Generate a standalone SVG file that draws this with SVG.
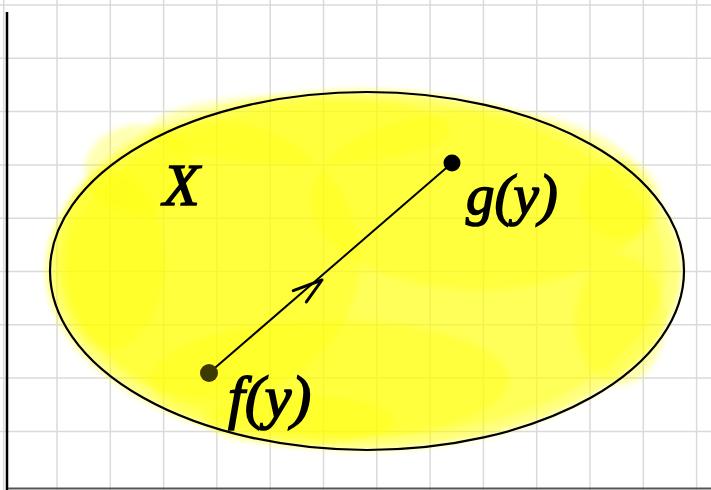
<svg xmlns="http://www.w3.org/2000/svg" width="711" height="490" viewBox="0 0 711 490">
<style>
.grid line{stroke:#dadada;stroke-width:1.5}
.lbl{font-family:"Liberation Serif",serif;font-style:italic;fill:#000;stroke:#000;stroke-width:1.6}
.blob{fill:#ffff00;opacity:0.3}
</style>
<defs>
<filter id="soft" x="-10%" y="-10%" width="120%" height="120%"><feGaussianBlur stdDeviation="3"/></filter>
<marker id="chev" markerWidth="40" markerHeight="40" refX="0" refY="0" viewBox="-35 -20 40 40" orient="auto" markerUnits="userSpaceOnUse">
<path d="M-29,-10 L0,0 L-26,7" fill="none" stroke="#000" stroke-width="3" stroke-linecap="round" stroke-linejoin="round"/>
</marker>
</defs>
<rect width="711" height="490" fill="#fff"/>
<g class="grid">
<line x1="3.7" y1="0" x2="3.7" y2="490"/><line x1="57" y1="0" x2="57" y2="490"/><line x1="110.3" y1="0" x2="110.3" y2="490"/><line x1="163.6" y1="0" x2="163.6" y2="490"/><line x1="216.9" y1="0" x2="216.9" y2="490"/><line x1="270.2" y1="0" x2="270.2" y2="490"/><line x1="323.5" y1="0" x2="323.5" y2="490"/><line x1="376.8" y1="0" x2="376.8" y2="490"/><line x1="430.1" y1="0" x2="430.1" y2="490"/><line x1="483.4" y1="0" x2="483.4" y2="490"/><line x1="536.7" y1="0" x2="536.7" y2="490"/><line x1="590" y1="0" x2="590" y2="490"/><line x1="643.3" y1="0" x2="643.3" y2="490"/><line x1="696.6" y1="0" x2="696.6" y2="490"/>
<line x1="0" y1="5" x2="711" y2="5"/><line x1="0" y1="58.3" x2="711" y2="58.3"/><line x1="0" y1="111.6" x2="711" y2="111.6"/><line x1="0" y1="164.9" x2="711" y2="164.9"/><line x1="0" y1="218.2" x2="711" y2="218.2"/><line x1="0" y1="271.5" x2="711" y2="271.5"/><line x1="0" y1="324.8" x2="711" y2="324.8"/><line x1="0" y1="378.1" x2="711" y2="378.1"/><line x1="0" y1="431.4" x2="711" y2="431.4"/>
</g>
<line x1="7" y1="12" x2="7" y2="490" stroke="#000" stroke-width="2.5"/>
<line x1="8" y1="488.5" x2="711" y2="488.5" stroke="#555" stroke-width="2"/>
<g id="X">
<g filter="url(#soft)">
<ellipse cx="364" cy="270" rx="318" ry="180" fill="#ffff00" opacity="0.5"/>
<ellipse class="blob" cx="365" cy="268" rx="300" ry="170"/>
<ellipse class="blob" cx="210" cy="260" rx="150" ry="140"/>
<ellipse class="blob" cx="480" cy="200" rx="170" ry="90"/>
<ellipse class="blob" cx="330" cy="380" rx="180" ry="60"/>
<ellipse class="blob" cx="110" cy="260" rx="55" ry="90"/>
<ellipse class="blob" cx="140" cy="170" rx="55" ry="45"/>
<ellipse class="blob" cx="620" cy="320" rx="45" ry="65"/>
<ellipse class="blob" cx="620" cy="200" rx="40" ry="40"/>
<ellipse class="blob" cx="300" cy="420" rx="95" ry="25"/>
<ellipse class="blob" cx="300" cy="130" rx="150" ry="35"/>
</g>
<ellipse cx="367" cy="271" rx="317" ry="179" fill="none" stroke="#000" stroke-width="2.2"/>
<text class="lbl" x="163" y="205" font-size="60">X</text>
</g>
<g id="connectors">
<line x1="209" y1="373" x2="452" y2="163" stroke="#000" stroke-width="2"/>
<path d="M209,373 L322,280" fill="none" stroke="none" marker-end="url(#chev)"/>
</g>
<g id="g">
<circle cx="452" cy="163" r="8.5" fill="#000"/>
<text class="lbl" x="466" y="214" font-size="57">g(y)</text>
</g>
<g id="f">
<circle cx="209" cy="373" r="9" fill="#3d3a00"/>
<text class="lbl" x="228" y="417" font-size="60">f(y)</text>
</g>
</svg>
